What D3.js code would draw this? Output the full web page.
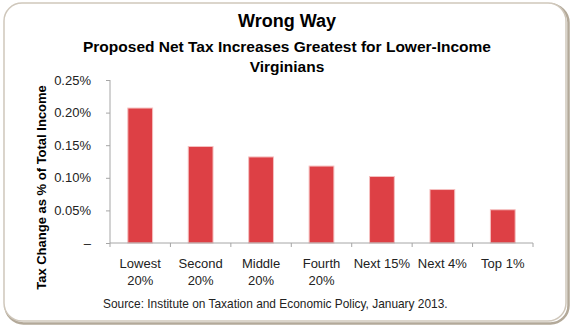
<!DOCTYPE html>
<html>
<head>
<meta charset="utf-8">
<script src="https://cdn.jsdelivr.net/npm/d3@7"></script>
<style>
  body { margin: 0; background: #fff; }
  svg { display: block; font-family: "Liberation Sans", Arial, sans-serif; }
</style>
</head>
<body>
<svg width="573" height="328"></svg>
<script>
const width = 573;
const height = 328;
const margin = { top: 80, right: 40, bottom: 85, left: 110 };

// values are already in percent of total income
const categories = ["Lowest 20%", "Second 20%", "Middle 20%", "Fourth 20%", "Next 15%", "Next 4%", "Top 1%"];
const taxChange = [0.207, 0.148, 0.132, 0.118, 0.102, 0.082, 0.051];
const yTicks = [0, 0.05, 0.10, 0.15, 0.20, 0.25];

const titleText = "Wrong Way";
const subtitleLines = ["Proposed Net Tax Increases Greatest for Lower-Income", "Virginians"];
const yLabel = "Tax Change as % of Total Income";
const sourceText = "Source: Institute on Taxation and Economic Policy, January 2013.";

const data = categories.map((c, i) => ({ cat: c, value: taxChange[i] }));

const svg = d3.select("svg");

// rounded frame with a soft shadow edge
svg.append("rect")
    .attr("x", 5.5).attr("y", 4.5)
    .attr("width", 563).attr("height", 319)
    .attr("rx", 18)
    .attr("fill", "none")
    .attr("stroke", "#b3a999")
    .attr("stroke-width", 2.5);
svg.append("rect")
    .attr("x", 4).attr("y", 3)
    .attr("width", 562).attr("height", 318)
    .attr("rx", 18)
    .attr("fill", "#fff")
    .attr("stroke", "#cfc7bb")
    .attr("stroke-width", 1.5);

// titles
svg.append("text")
    .attr("x", 287).attr("y", 27)
    .attr("text-anchor", "middle")
    .attr("font-weight", "bold")
    .attr("font-size", 18)
    .text(titleText);

svg.append("g")
    .selectAll("text")
    .data(subtitleLines)
    .enter()
    .append("text")
    .attr("x", 287)
    .attr("y", (d, i) => 52 + i * 20)
    .attr("text-anchor", "middle")
    .attr("font-weight", "bold")
    .attr("font-size", 15.5)
    .text((d) => d);

const x = d3.scaleBand()
    .domain(categories)
    .range([margin.left, width - margin.right])
    .paddingInner(0.59)
    .paddingOuter(0.295);

const y = d3.scaleLinear()
    .domain([0, 0.25])
    .range([height - margin.bottom, margin.top]);

const axisColor = "#a6a6a6";

// y axis
svg.append("g")
    .attr("transform", `translate(${margin.left},0)`)
    .call(d3.axisLeft(y)
        .tickValues(yTicks)
        .tickSize(4)
        .tickPadding(15)
        .tickFormat((d) => d === 0 ? "\u2013" : d.toFixed(2) + "%"))
    .call((g) => g.select(".domain").attr("stroke", axisColor).attr("d", `M0,${y(0)}V${y(0.25)}`))
    .call((g) => g.selectAll(".tick line").attr("stroke", axisColor))
    .call((g) => g.selectAll(".tick text")
        .attr("font-size", 13)
        .attr("fill", "#222")
        .attr("font-family", "Liberation Sans, Arial, sans-serif"));

// bars
svg.append("g")
    .selectAll("rect")
    .data(data)
    .enter()
    .append("rect")
    .attr("x", (d) => x(d.cat))
    .attr("y", (d) => y(d.value))
    .attr("width", x.bandwidth())
    .attr("height", (d) => y(0) - y(d.value))
    .attr("fill", "#dd4045")
    .attr("stroke", "#f5c0c0")
    .attr("stroke-width", 1);

// x axis: line with ticks between categories
const gap = (x.step() - x.bandwidth()) / 2;
const bounds = categories.map((c) => x(c) - gap).concat([x(categories[categories.length - 1]) + x.bandwidth() + gap]);
const xAxis = svg.append("g");
xAxis.append("line")
    .attr("x1", margin.left).attr("x2", width - margin.right)
    .attr("y1", y(0)).attr("y2", y(0))
    .attr("stroke", axisColor);
xAxis.selectAll(".xtick")
    .data(bounds)
    .enter()
    .append("line")
    .attr("class", "xtick")
    .attr("x1", (d) => d).attr("x2", (d) => d)
    .attr("y1", y(0)).attr("y2", y(0) + 4)
    .attr("stroke", axisColor);

// category labels, wrapped on the space before "20%"
const labels = xAxis.selectAll(".xlabel")
    .data(categories)
    .enter()
    .append("text")
    .attr("class", "xlabel")
    .attr("text-anchor", "middle")
    .attr("font-size", 13)
    .attr("fill", "#222");
labels.each(function (d) {
    const parts = d.endsWith(" 20%") ? [d.replace(" 20%", ""), "20%"] : [d];
    const cx = x(d) + x.bandwidth() / 2;
    d3.select(this).selectAll("tspan")
        .data(parts)
        .enter()
        .append("tspan")
        .attr("x", cx)
        .attr("y", (p, i) => y(0) + 25 + i * 17)
        .text((p) => p);
});

// y axis title
svg.append("text")
    .attr("transform", `translate(46,${(y(0) + y(0.25)) / 2 + 26}) rotate(-90)`)
    .attr("text-anchor", "middle")
    .attr("font-weight", "bold")
    .attr("font-size", 13)
    .text(yLabel);

// source note
svg.append("text")
    .attr("x", 103)
    .attr("y", 308)
    .attr("font-size", 11.9)
    .attr("fill", "#222")
    .text(sourceText);
</script>
</body>
</html>
